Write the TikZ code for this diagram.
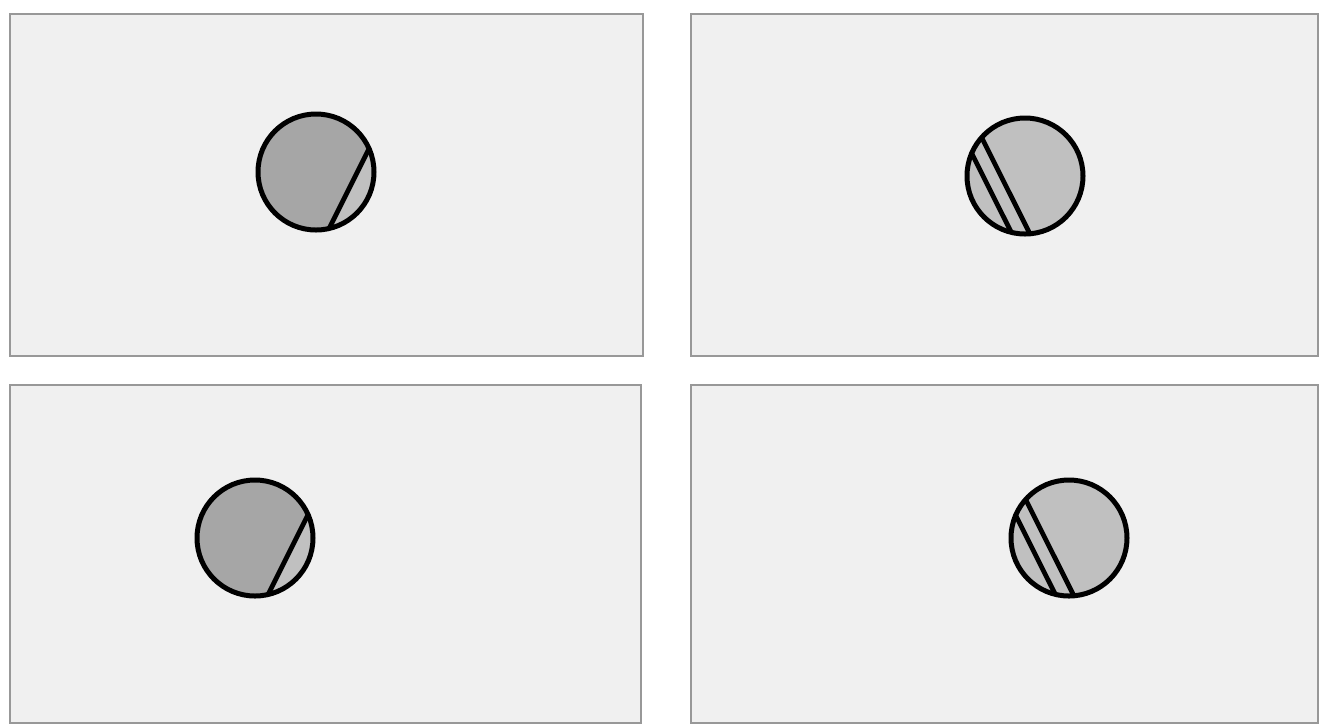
\documentclass[tikz,border=0pt]{standalone}
\usetikzlibrary{calc}

\definecolor{panelfill}{RGB}{240,240,240}
\definecolor{paneledge}{RGB}{152,152,152}
\definecolor{darkdisc}{RGB}{166,166,166}
\definecolor{lightdisc}{RGB}{192,192,192}

\begin{document}
\begin{tikzpicture}[
  x=0.02cm, y=-0.02cm,
  %% ── Panel style ─────────────────────────────────────────────────────────
  panel/.style={
    fill=panelfill, draw=paneledge, line width=0.055cm
  },
  %% ── Disc styles ─────────────────────────────────────────────────────────
  disc/.style={
    circle, fill=lightdisc, minimum size=2.32cm, inner sep=0pt
  },
  rim/.style={line width=0.1cm, black},
  chord/.style={line width=0.095cm, black},
]

\useasboundingbox[fill=white] (0,0) rectangle (1320,725);

%% ═══════════════════════════════════════════════════════════════════════════
%% PANELS
%% ═══════════════════════════════════════════════════════════════════════════

\draw[panel] (10,14)  rectangle (643,356);
\draw[panel] (691,14) rectangle (1318,356);
\draw[panel] (10,385) rectangle (641,723);
\draw[panel] (691,385) rectangle (1318,723);

%% ═══════════════════════════════════════════════════════════════════════════
%% DISCS
%% ═══════════════════════════════════════════════════════════════════════════

\node[disc] (tl) at (316,172)  {};
\node[disc] (tr) at (1025,176) {};
\node[disc] (bl) at (255,538)  {};
\node[disc] (br) at (1069,538) {};

%% — One cut, darker side on the left ────────────────────────────────────────
\foreach \d in {tl, bl} {
  \begin{scope}
    \clip (\d.center) circle (58);
    \fill[darkdisc]
      ($(\d.center)+(26.6:37)+(116.6:90)$) --
      ($(\d.center)+(26.6:37)+(-63.4:90)$) --
      ++(206.6:140) -- ++(116.6:180) -- cycle;
    \draw[chord]
      ($(\d.center)+(26.6:37)+(116.6:90)$) --
      ($(\d.center)+(26.6:37)+(-63.4:90)$);
  \end{scope}
  \draw[rim] (\d.center) circle (58);
}

%% — Two parallel cuts ───────────────────────────────────────────────────────
\foreach \d in {tr, br} {
  \begin{scope}
    \clip (\d.center) circle (58);
    \foreach \off in {21.5, 37.5}
      \draw[chord]
        ($(\d.center)+(153.4:\off)+(63.4:90)$) --
        ($(\d.center)+(153.4:\off)+(243.4:90)$);
  \end{scope}
  \draw[rim] (\d.center) circle (58);
}

\end{tikzpicture}
\end{document}
